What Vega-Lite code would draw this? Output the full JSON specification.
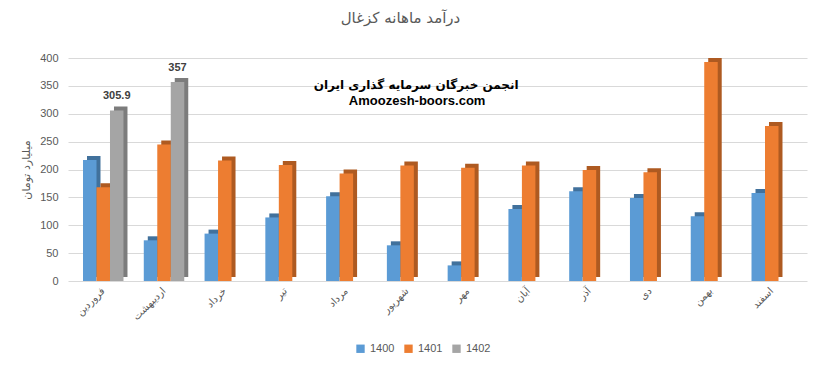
{
  "$schema": "https://vega.github.io/schema/vega-lite/v6.json",
  "autosize": {"type": "none"},
  "padding": {"left": 68, "top": 58, "right": 17, "bottom": 88},
  "width": 739,
  "height": 223,
  "background": "white",
  "config": {
    "font": "Liberation Sans, DejaVu Sans, sans-serif",
    "view": {"stroke": null}
  },
  "title": {
    "text": "درآمد ماهانه کزغال",
    "fontSize": 15,
    "fontWeight": "normal",
    "color": "#595959",
    "font": "DejaVu Sans",
    "anchor": "middle",
    "dx": -37,
    "offset": 26
  },
  "datasets": {
    "main": [
      {"month": "فروردین", "year": "1400", "value": 217},
      {"month": "فروردین", "year": "1401", "value": 168},
      {"month": "فروردین", "year": "1402", "value": 305.9, "label": "305.9"},
      {"month": "اردیبهشت", "year": "1400", "value": 73},
      {"month": "اردیبهشت", "year": "1401", "value": 245},
      {"month": "اردیبهشت", "year": "1402", "value": 357, "label": "357"},
      {"month": "خرداد", "year": "1400", "value": 85},
      {"month": "خرداد", "year": "1401", "value": 216},
      {"month": "تیر", "year": "1400", "value": 114},
      {"month": "تیر", "year": "1401", "value": 208},
      {"month": "مرداد", "year": "1400", "value": 152},
      {"month": "مرداد", "year": "1401", "value": 193},
      {"month": "شهریور", "year": "1400", "value": 64},
      {"month": "شهریور", "year": "1401", "value": 207},
      {"month": "مهر", "year": "1400", "value": 28},
      {"month": "مهر", "year": "1401", "value": 203},
      {"month": "آبان", "year": "1400", "value": 129},
      {"month": "آبان", "year": "1401", "value": 207},
      {"month": "آذر", "year": "1400", "value": 161},
      {"month": "آذر", "year": "1401", "value": 199},
      {"month": "دی", "year": "1400", "value": 149},
      {"month": "دی", "year": "1401", "value": 195},
      {"month": "بهمن", "year": "1400", "value": 116},
      {"month": "بهمن", "year": "1401", "value": 393},
      {"month": "اسفند", "year": "1400", "value": 158},
      {"month": "اسفند", "year": "1401", "value": 278}
    ],
    "mark": [
      {"month": "شهریور", "line1": "انجمن خبرگان سرمایه گذاری ایران", "y1": 352, "line2": "Amoozesh-boors.com", "y2": 322}
    ]
  },
  "data": {"name": "main"},
  "encoding": {
    "y": {
      "field": "value",
      "type": "quantitative",
      "scale": {"domain": [0, 400], "nice": false},
      "axis": {
        "title": "میلیارد تومان",
        "titleFont": "DejaVu Sans",
        "titleFontSize": 11,
        "titleFontWeight": "normal",
        "titleColor": "#595959",
        "titlePadding": 8,
        "values": [0, 50, 100, 150, 200, 250, 300, 350, 400],
        "labelFontSize": 11,
        "labelColor": "#595959",
        "labelPadding": 10,
        "ticks": false,
        "domain": false,
        "grid": true,
        "gridColor": "#D9D9D9",
        "gridWidth": 1
      }
    }
  },
  "layer": [
    {
      "mark": {"type": "bar", "yOffset": -4},
      "encoding": {
        "x": {
          "field": "month",
          "type": "nominal",
          "sort": null,
          "scale": {
            "domain": ["فروردین", "اردیبهشت", "خرداد", "تیر", "مرداد", "شهریور", "مهر", "آبان", "آذر", "دی", "بهمن", "اسفند"],
            "paddingInner": 0.334,
            "paddingOuter": 0.247,
            "align": 0.633
          },
          "axis": null
        },
        "xOffset": {"field": "year", "type": "nominal", "scale": {"domain": ["1400", "1401", "1402"]}},
        "color": {
          "field": "year",
          "type": "nominal",
          "scale": {"domain": ["1400", "1401", "1402"], "range": ["#41719C", "#AE5A21", "#7C7C7C"]},
          "legend": null
        }
      }
    },
    {
      "encoding": {
        "x": {
          "field": "month",
          "type": "nominal",
          "sort": null,
          "scale": {
            "domain": ["فروردین", "اردیبهشت", "خرداد", "تیر", "مرداد", "شهریور", "مهر", "آبان", "آذر", "دی", "بهمن", "اسفند"],
            "paddingInner": 0.334,
            "paddingOuter": 0.247
          },
          "axis": {
            "title": null,
            "labelAngle": -45,
            "labelAlign": "right",
            "labelBaseline": "middle",
            "labelFont": "DejaVu Sans",
            "labelFontSize": 10,
            "labelColor": "#595959",
            "labelPadding": 8,
            "ticks": false,
            "domain": false,
            "grid": false
          }
        }
      },
      "layer": [
        {
          "mark": {"type": "bar"},
          "encoding": {
            "xOffset": {"field": "year", "type": "nominal", "scale": {"domain": ["1400", "1401", "1402"]}},
            "color": {
              "field": "year",
              "type": "nominal",
              "scale": {"domain": ["1400", "1401", "1402"], "range": ["#5B9BD5", "#ED7D31", "#A5A5A5"]},
              "legend": {
                "title": null,
                "orient": "none",
                "direction": "horizontal",
                "legendX": 287,
                "legendY": 285,
                "symbolType": "square",
                "symbolSize": 70,
                "symbolStrokeWidth": 0,
                "labelFontSize": 11,
                "labelColor": "#595959",
                "columnPadding": 8
              }
            }
          }
        },
        {
          "transform": [{"filter": "datum.label != null"}],
          "mark": {"type": "text", "baseline": "bottom", "dy": -9, "fontWeight": "bold", "fontSize": 11, "color": "#404040"},
          "encoding": {
            "xOffset": {"field": "year", "type": "nominal", "scale": {"domain": ["1400", "1401", "1402"]}},
            "text": {"field": "label"}
          }
        },
        {
          "data": {"name": "mark"},
          "mark": {"type": "text", "fontWeight": "bold", "fontSize": 12, "color": "#000000", "font": "DejaVu Sans", "dx": 9},
          "encoding": {
            "y": {"field": "y1", "type": "quantitative"},
            "text": {"field": "line1"}
          }
        },
        {
          "data": {"name": "mark"},
          "mark": {"type": "text", "fontWeight": "bold", "fontSize": 13, "color": "#000000", "dx": 10},
          "encoding": {
            "y": {"field": "y2", "type": "quantitative"},
            "text": {"field": "line2"}
          }
        }
      ]
    }
  ],
  "resolve": {"scale": {"x": "independent", "color": "independent"}}
}
